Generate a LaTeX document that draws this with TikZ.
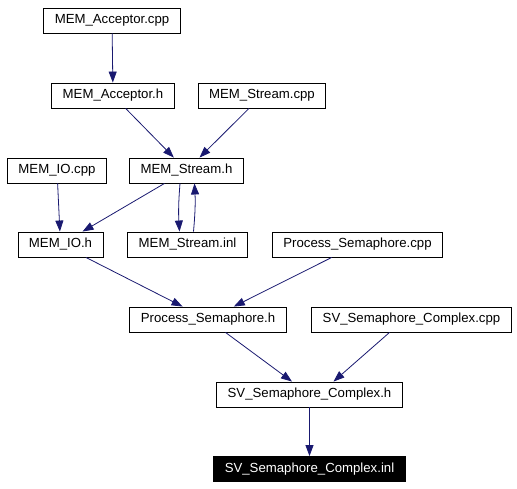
\documentclass[tikz,border=0pt]{standalone}
\usepackage{fontspec}
\setmainfont{Liberation Sans}
\usetikzlibrary{calc,arrows.meta}
\definecolor{edgeblue}{HTML}{191970}
\tikzset{file/.style={draw, rectangle, line width=0.9pt, minimum height=25pt, inner xsep=11pt, inner ysep=0pt, font=\fontsize{13.2}{15}\selectfont},
         dep/.style={draw=edgeblue, line width=0.8pt, -{Triangle[length=11pt,width=8pt]}, edgeblue}}

\begin{document}
\begin{tikzpicture}[x=1pt, y=1pt]
          \useasboundingbox (0, 0) rectangle (517, -488);
          \node at (112, -20.5) [file] (acccpp) {MEM\_Acceptor.cpp};
          \node at (113, -95.5) [file] (acch) {MEM\_Acceptor.h};
          \node at (262, -95.5) [file] (strcpp) {MEM\_Stream.cpp};
          \node at (57, -170.5) [file] (iocpp) {MEM\_IO.cpp};
          \node at (186.5, -170.5) [file] (strh) {MEM\_Stream.h};
          \node at (60.5, -244.5) [file] (ioh) {MEM\_IO.h};
          \node at (187.5, -244.5) [file] (strinl) {MEM\_Stream.inl};
          \node at (357.5, -244.5) [file] (pscpp) {Process\_Semaphore.cpp};
          \node at (208, -319.5) [file] (psh) {Process\_Semaphore.h};
          \node at (411.5, -319.5) [file] (svcpp) {SV\_Semaphore\_Complex.cpp};
          \node at (309.5, -394.5) [file] (svh) {SV\_Semaphore\_Complex.h};
          \node at (309.5, -469) [file, fill=black, text=white] (svinl) {SV\_Semaphore\_Complex.inl};

          \draw[dep] (acccpp) -- (acch);
          \draw[dep] (acch) -- (strh);
          \draw[dep] (strcpp) -- (strh);
          \draw[dep] (iocpp) -- (ioh);
          \draw[dep] (strh) -- (ioh);
          \draw[dep] ([xshift=-6.5pt]strh.south) to[bend right=4] ([xshift=-8pt]strinl.north);
          \draw[dep] ([xshift=6pt]strinl.north) to[bend right=4] ([xshift=8pt]strh.south);
          \draw[dep] (ioh) -- (psh);
          \draw[dep] (pscpp) -- (psh);
          \draw[dep] (psh) -- (svh);
          \draw[dep] ([xshift=-22pt]svcpp.south) -- ([xshift=24pt]svh.north);
          \draw[dep] (svh) -- (svinl);
        \end{tikzpicture}
\end{document}
